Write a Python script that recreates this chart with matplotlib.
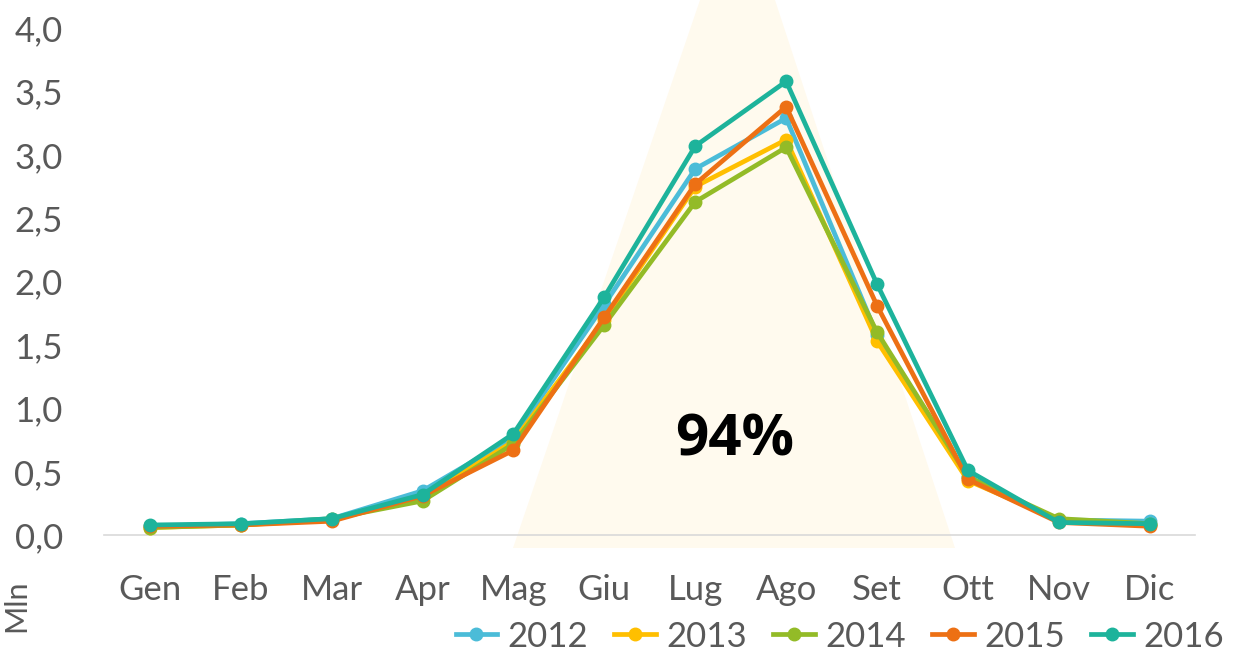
import matplotlib.pyplot as plt
from matplotlib.patches import Polygon

# months and yearly values (Mln)
mesi = ['Gen', 'Feb', 'Mar', 'Apr', 'Mag', 'Giu', 'Lug', 'Ago', 'Set', 'Ott', 'Nov', 'Dic']
v2012 = [0.07, 0.09, 0.13, 0.35, 0.77, 1.82, 2.89, 3.29, 1.58, 0.46, 0.12, 0.11]
v2013 = [0.06, 0.08, 0.12, 0.30, 0.74, 1.70, 2.75, 3.12, 1.53, 0.43, 0.12, 0.08]
v2014 = [0.06, 0.08, 0.13, 0.27, 0.72, 1.66, 2.63, 3.06, 1.60, 0.46, 0.13, 0.09]
v2015 = [0.07, 0.08, 0.11, 0.31, 0.67, 1.72, 2.77, 3.38, 1.81, 0.44, 0.10, 0.07]
v2016 = [0.08, 0.09, 0.13, 0.32, 0.80, 1.88, 3.07, 3.58, 1.98, 0.51, 0.10, 0.09]

anni = ['2012', '2013', '2014', '2015', '2016']
serie = [v2012, v2013, v2014, v2015, v2016]
colori = ['#4BBCD8', '#FFBF00', '#93BB27', '#ED7014', '#1DB39B']

plt.rcParams['font.family'] = ['Lato', 'DejaVu Sans']
grigio = '#595959'

fig = plt.figure(figsize=(12.36, 6.55), dpi=100)
ax = fig.add_axes([0.0845, 0.183, 0.8825, 0.774])

# pale triangle behind the summer months
W, H = 1236, 655
tri = [(513, 548), (955, 548), (775, 0), (700, 0)]
ax.add_patch(Polygon([(x / W, 1 - y / H) for x, y in tri], closed=True,
                     transform=fig.transFigure, facecolor='#FFFAEE',
                     edgecolor='none', zorder=0, clip_on=False))

x = list(range(len(mesi)))
for anno, vals, c in zip(anni, serie, colori):
    ax.plot(x, vals, color=c, lw=3.4, marker='o', ms=9, label=anno, zorder=3)

ax.set_xlim(-0.5, 11.5)
ax.set_ylim(0, 4.0)
ax.set_yticks([0, 0.5, 1.0, 1.5, 2.0, 2.5, 3.0, 3.5, 4.0])
ax.set_yticklabels(['0,0', '0,5', '1,0', '1,5', '2,0', '2,5', '3,0', '3,5', '4,0'])
ax.set_xticks(x)
ax.set_xticklabels(mesi)
ax.tick_params(axis='both', length=0, labelsize=25, colors=grigio)
ax.tick_params(axis='y', pad=30)
ax.tick_params(axis='x', pad=28)
for s in ['top', 'right', 'left']:
    ax.spines[s].set_visible(False)
ax.spines['bottom'].set_color('#D9D9D9')
ax.spines['bottom'].set_linewidth(1.2)
ax.spines['bottom'].set_zorder(1)

ax.text(6.43, 0.75, '94%', fontsize=42, fontweight='bold', color='black',
        family=['Open Sans', 'DejaVu Sans'], ha='center', va='center', zorder=4)

fig.text(0.002, 0.075, 'Mln', rotation=90, fontsize=22, color=grigio,
         ha='left', va='center')

leg = ax.legend(loc='center', bbox_to_anchor=(0.674, -0.2), ncol=5, frameon=False,
                fontsize=25, handlelength=1.2, handletextpad=0.3, columnspacing=0.75,
                labelcolor=grigio, borderpad=0, borderaxespad=0)

plt.savefig('out.png', dpi=100)
